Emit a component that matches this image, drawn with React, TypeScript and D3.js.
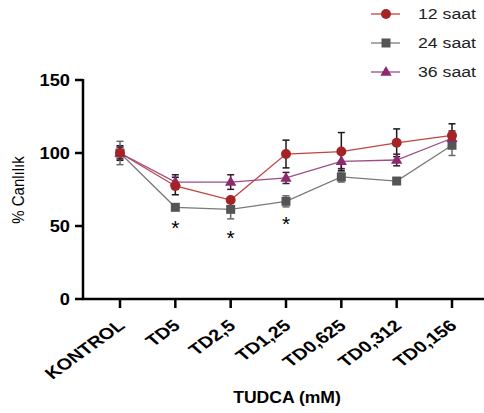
import React from "react";
import * as d3 from "d3";

const categories = ["KONTROL", "TD5", "TD2,5", "TD1,25", "TD0,625", "TD0,312", "TD0,156"];
const seriesNames = ["12 saat", "24 saat", "36 saat"];
const values12 = [100, 77.4, 67.8, 99.3, 101, 107, 112];
const err12 = [5, 6, 0, 9.5, 13, 9.5, 8];
const values24 = [100, 62.8, 61.4, 66.9, 83.6, 80.8, 105.3];
const err24 = [8, 1.5, 6.5, 3.8, 3.5, 1.5, 7];
const values36 = [100, 80.1, 80.1, 82.9, 94.3, 95.2, 110.1];
const err36 = [4, 5, 5, 3.8, 5, 4, 5];
const yTicks = [0, 50, 100, 150];
const starIndices = [1, 2, 3];

const colors = ["#a52325", "#555555", "#8b2a6d"];
const lineColors = ["#c0443f", "#7a7a7a", "#a04a86"];
const errColors = ["#1a1a1a", "#6a6a6a", "#3a1a30"];

export default function App() {
  const W = 484, H = 413;
  const x0 = 83, x1 = 484;
  const y = d3.scaleLinear().domain([0, 150]).range([299, 80]);
  const x = d3.scalePoint<string>().domain(categories).range([120, 452]);
  const data = [
    { v: values12, e: err12 },
    { v: values24, e: err24 },
    { v: values36, e: err36 },
  ];
  const line = d3.line<number>().x((_, i) => x(categories[i])!).y((d) => y(d));
  const font = "'Liberation Sans', Arial, sans-serif";

  const marker = (s: number, cx: number, cy: number, key: string) => {
    if (s === 0) return <circle key={key} cx={cx} cy={cy} r={5} fill={colors[0]} />;
    if (s === 1) return <rect key={key} x={cx - 4.5} y={cy - 4.5} width={9} height={9} fill={colors[1]} />;
    const tri = d3.symbol().type(d3.symbolTriangle).size(55)();
    return <path key={key} d={tri!} transform={`translate(${cx},${cy + 0.5})`} fill={colors[2]} />;
  };

  return (
    <svg width={W} height={H} style={{ position: "absolute", left: 0, top: 0, background: "#fff" }} fontFamily={font}>
      {/* y axis */}
      <line x1={x0} x2={x0} y1={y(150) - 1} y2={y(0) + 1} stroke="#000" strokeWidth={2.5} />
      {yTicks.map((t) => (
        <g key={t} transform={`translate(${x0 - 13},${y(t)}) scale(1.14,1)`}>
          <text dy="0.36em" textAnchor="end" fontSize={16} fontWeight="bold">{t}</text>
        </g>
      ))}
      {yTicks.map((t) => (
        <line key={"yt" + t} x1={x0 - 8} x2={x0} y1={y(t)} y2={y(t)} stroke="#000" strokeWidth={2.5} />
      ))}
      <g transform="translate(24,190) scale(1.15,1)">
        <text transform="rotate(-90)" textAnchor="middle" fontSize={15}>% Canlılık</text>
      </g>
      {/* x axis */}
      <line x1={x0 - 1} x2={x1} y1={y(0)} y2={y(0)} stroke="#000" strokeWidth={2.5} />
      {categories.map((c) => (
        <line key={"xt" + c} x1={x(c)!} x2={x(c)!} y1={y(0)} y2={y(0) + 9} stroke="#000" strokeWidth={2.5} />
      ))}
      {categories.map((c) => (
        <g key={"xl" + c} transform={`translate(${x(c)! + 6},${y(0) + 28}) scale(1.25,1)`}>
          <text transform="rotate(-42)" textAnchor="end" fontSize={16} fontWeight="bold">
            {c}
          </text>
        </g>
      ))}
      <g transform="translate(287,403) scale(1.1,1)">
        <text textAnchor="middle" fontSize={16} fontWeight="bold">TUDCA (mM)</text>
      </g>

      {/* lines */}
      {data.map((d, s) => (
        <path key={"l" + s} d={line(d.v)!} fill="none" stroke={lineColors[s]} strokeWidth={1.3} />
      ))}
      {/* error bars */}
      {data.map((d, s) =>
        d.v.map((v, i) => {
          const cx = x(categories[i])!;
          const e = d.e[i];
          if (e <= 0) return null;
          return (
            <g key={`e${s}-${i}`} stroke={errColors[s]} strokeWidth={1.5}>
              <line x1={cx} x2={cx} y1={y(v + e)} y2={y(v - e)} />
              <line x1={cx - 3.5} x2={cx + 3.5} y1={y(v + e)} y2={y(v + e)} />
              <line x1={cx - 3.5} x2={cx + 3.5} y1={y(v - e)} y2={y(v - e)} />
            </g>
          );
        })
      )}
      {/* markers: draw 24, 36 then 12 on top */}
      {[1, 2, 0].map((s) => data[s].v.map((v, i) => marker(s, x(categories[i])!, y(v), `m${s}-${i}`)))}

      {/* significance */}
      {starIndices.map((i, k) => (
        <text key={"s" + i} x={x(categories[i])!} y={[235, 245, 231][k]} textAnchor="middle" fontSize={21}>*</text>
      ))}

      {/* legend */}
      {seriesNames.map((n, s) => {
        const ly = [14, 43, 72][s];
        return (
          <g key={n}>
            <line x1={371} x2={400} y1={ly} y2={ly} stroke={lineColors[s]} strokeWidth={1.3} />
            {marker(s, 386, ly, "lg" + s)}
            <g transform={`translate(418,${ly}) scale(1.18,1)`}>
              <text dy="0.36em" fontSize={15} fill="#222">{n}</text>
            </g>
          </g>
        );
      })}
    </svg>
  );
}
